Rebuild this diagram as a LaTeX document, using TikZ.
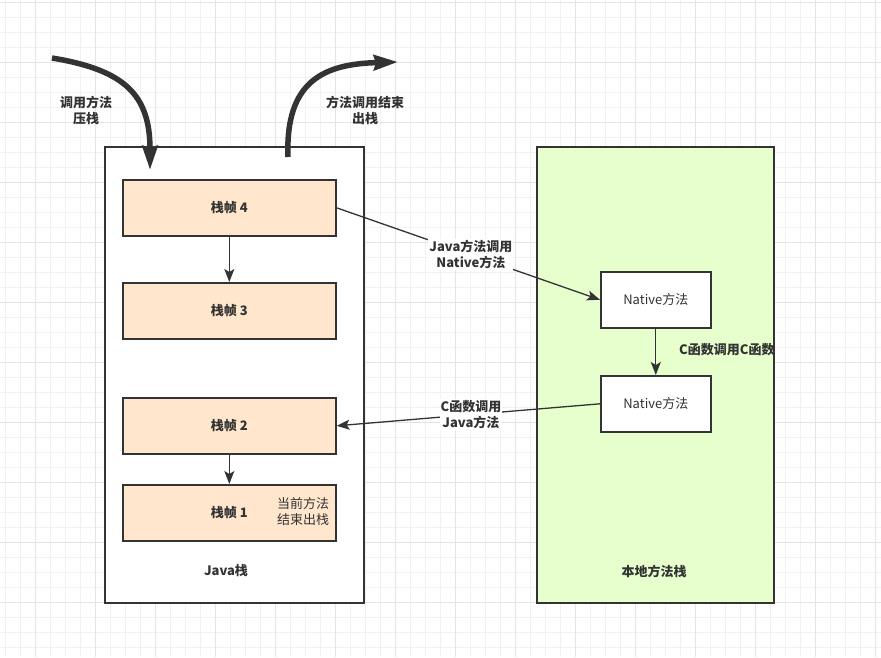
\documentclass[tikz,border=0pt]{standalone}
\usepackage{fontspec}
\setmainfont{Noto Sans CJK SC}
\usetikzlibrary{arrows.meta}
\definecolor{dk}{HTML}{333333}
\definecolor{gmin}{HTML}{F1F1F1}
\definecolor{gmaj}{HTML}{E4E4E4}
\definecolor{frame}{HTML}{FFE6CC}
\definecolor{natbg}{HTML}{E6FFCC}
\tikzset{
  box/.style={draw=dk,line width=1.6pt,inner sep=0pt,anchor=north west},
  framebox/.style={box,fill=frame,minimum width=213pt,minimum height=56pt},
  natbox/.style={box,fill=white,minimum width=110pt,minimum height=56pt},
  lbl/.style={font=\fontsize{13}{16}\selectfont\bfseries,text=dk,align=center,inner sep=1pt},
  lbln/.style={font=\fontsize{13}{16}\selectfont,text=dk,align=center,inner sep=1pt},
  conn/.style={draw=dk,line width=1.3pt,-{Stealth[length=13pt,width=10pt,inset=3pt]}},
  big/.style={draw=dk,line width=5.5pt,-{Stealth[length=24pt,width=15pt,inset=2pt]}},
}
\begin{document}
\begin{tikzpicture}[x=1pt,y=-1pt]
\useasboundingbox (0,0) rectangle (881,657);
\fill[white] (0,0) rectangle (881,657);
% grid
\foreach \gx in {5,20,...,880} \draw[gmin,line width=0.8pt] (\gx,0) -- (\gx,657);
\foreach \gy in {2,17,...,656} \draw[gmin,line width=0.8pt] (0,\gy) -- (881,\gy);
\foreach \gx in {35,95,...,880} \draw[gmaj,line width=0.8pt] (\gx,0) -- (\gx,657);
\foreach \gy in {2,62,...,656} \draw[gmaj,line width=0.8pt] (0,\gy) -- (881,\gy);
% containers
\node[box,fill=white,minimum width=259pt,minimum height=456pt] (jstack) at (104,146) {};
\node[box,fill=natbg,minimum width=237pt,minimum height=456pt] (nstack) at (536,146) {};
\node[lbl] (jlab) at (226,571) {Java栈};
\node[lbl] (nlab) at (654,571) {本地方法栈};
% frames
\node[framebox] (f4) at (122,179) {};
\node[lbl] at (f4.center) {栈帧 4};
\node[framebox] (f3) at (122,282) {};
\node[lbl] at (f3.center) {栈帧 3};
\node[framebox] (f2) at (122,397) {};
\node[lbl] at (f2.center) {栈帧 2};
\node[framebox] (f1) at (122,484) {};
\node[lbl] at (f1.center) {栈帧 1};
\node[lbln] (cur) at (303,512) {当前方法\\结束出栈};
% native
\node[natbox] (n1) at (600,271) {};
\node[lbln] at (n1.center) {Native方法};
\node[natbox] (n2) at (600,375) {};
\node[lbln] at (n2.center) {Native方法};
% connectors
\draw[conn] (f4.south) -- (f3.north);
\draw[conn] (f2.south) -- (f1.north);
\draw[conn] (n1.south) -- (n2.north);
\node[lbl,anchor=west] (cc) at (678,350) {C函数调用C函数};
\draw[conn] (f4.east) -- node[lbl,fill=white,pos=0.51] (l1) {Java方法调用\\Native方法} (n1.west);
\draw[conn] (n2.west) -- node[lbl,fill=white,pos=0.49] (l2) {C函数调用\\Java方法} (f2.east);
% big arrows
\coordinate (a1s) at (52,58);
\coordinate (a1e) at (150,170);
\draw[big] (a1s) .. controls (125,70) and (150,95) .. (a1e);
\node[lbl] (t1) at (86,110) {调用方法\\压栈};
\coordinate (a2s) at (288,157);
\coordinate (a2e) at (398,62);
\draw[big] (a2s) .. controls (285,80) and (325,64) .. (a2e);
\node[lbl] (t2) at (365,110) {方法调用结束\\出栈};
\end{tikzpicture}
\end{document}
